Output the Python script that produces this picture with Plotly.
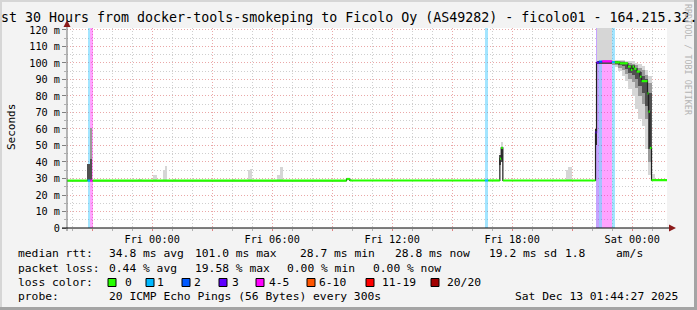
import plotly.graph_objects as go
import pandas as pd

# ---------------- data ----------------
title_text = "st 30 Hours from docker-tools-smokeping to Ficolo Oy (AS49282) - ficolo01 - 164.215.32."
x_start = "2025-12-11 19:44:27"
x_end = "2025-12-13 01:44:27"

tick_times = ["2025-12-11 21:00", "2025-12-12 00:00", "2025-12-12 03:00", "2025-12-12 06:00",
              "2025-12-12 09:00", "2025-12-12 12:00", "2025-12-12 15:00", "2025-12-12 18:00",
              "2025-12-12 21:00", "2025-12-13 00:00"]
tick_labels = ["", "Fri 00:00", "", "Fri 06:00", "", "Fri 12:00", "", "Fri 18:00", "", "Sat 00:00"]

y_ticks = [0, 10, 20, 30, 40, 50, 60, 70, 80, 90, 100, 110, 120]
y_tick_labels = ["0", "10 m", "20 m", "30 m", "40 m", "50 m", "60 m", "70 m", "80 m",
                 "90 m", "100 m", "110 m", "120 m"]

# median rtt (ms) step breakpoints and lost pings (of 20) for each step
med_time = ["2025-12-11 19:44:27", "2025-12-11 20:46", "2025-12-11 20:54", "2025-12-11 21:01",
            "2025-12-12 09:43", "2025-12-12 09:53", "2025-12-12 16:38", "2025-12-12 16:48",
            "2025-12-12 17:23", "2025-12-12 17:27", "2025-12-12 17:32", "2025-12-12 22:10",
            "2025-12-12 22:13", "2025-12-12 22:20", "2025-12-12 22:30", "2025-12-12 22:59",
            "2025-12-12 23:08", "2025-12-12 23:23", "2025-12-12 23:47", "2025-12-12 23:56",
            "2025-12-13 00:01", "2025-12-13 00:06", "2025-12-13 00:13", "2025-12-13 00:23",
            "2025-12-13 00:28", "2025-12-13 00:46", "2025-12-13 00:49", "2025-12-13 00:53",
            "2025-12-13 00:58"]
med_ms = [28.7, 28.7, 28.7, 28.7,
          29.7, 28.8, 28.8, 28.8,
          42.0, 48.5, 28.8, 58.0,
          100.2, 100.8, 101.0, 100.5,
          100.4, 99.8, 97.8, 95.8,
          97.8, 96.5, 94.8, 91.7,
          89.0, 81.6, 70.5, 48.5,
          29.0]
med_loss = [0, 1, 5, 0,
            0, 0, 1, 0,
            0, 0, 0, 3,
            3, 2, 5, 1,
            0, 0, 0, 0,
            0, 0, 0, 0,
            0, 0, 0, 0,
            0]

# smoke (ping spread) blocks: start, end, low ms, high ms, shade (0 light .. 3 darkest)
smoke_t0 = ["2025-12-11 23:17", "2025-12-12 00:01", "2025-12-12 00:31", "2025-12-12 00:37", "2025-12-12 01:01",
            "2025-12-12 03:58", "2025-12-12 04:46", "2025-12-12 04:52", "2025-12-12 06:13", "2025-12-12 06:23",
            "2025-12-12 09:53", "2025-12-12 20:41", "2025-12-12 20:47",
            "2025-12-11 20:47", "2025-12-11 20:52", "2025-12-11 20:52",
            "2025-12-12 17:23", "2025-12-12 17:27", "2025-12-12 17:27",
            "2025-12-12 22:10", "2025-12-12 22:13", "2025-12-12 22:13",
            "2025-12-12 22:59", "2025-12-12 22:59", "2025-12-12 22:59",
            "2025-12-12 23:08", "2025-12-12 23:08", "2025-12-12 23:08",
            "2025-12-12 23:18", "2025-12-12 23:18", "2025-12-12 23:18",
            "2025-12-12 23:28", "2025-12-12 23:28", "2025-12-12 23:28",
            "2025-12-12 23:38", "2025-12-12 23:38", "2025-12-12 23:38",
            "2025-12-12 23:48", "2025-12-12 23:48", "2025-12-12 23:48",
            "2025-12-12 23:58", "2025-12-12 23:58", "2025-12-12 23:58",
            "2025-12-13 00:08", "2025-12-13 00:08", "2025-12-13 00:08",
            "2025-12-13 00:18", "2025-12-13 00:18", "2025-12-13 00:18",
            "2025-12-13 00:28", "2025-12-13 00:28", "2025-12-13 00:28",
            "2025-12-13 00:38", "2025-12-13 00:38", "2025-12-13 00:38",
            "2025-12-13 00:48", "2025-12-13 00:48", "2025-12-13 00:48",
            "2025-12-13 00:58"]
smoke_t1 = ["2025-12-11 23:28", "2025-12-12 00:13", "2025-12-12 00:37", "2025-12-12 00:43", "2025-12-12 01:11",
            "2025-12-12 04:08", "2025-12-12 04:52", "2025-12-12 04:58", "2025-12-12 06:23", "2025-12-12 06:33",
            "2025-12-12 09:59", "2025-12-12 20:47", "2025-12-12 20:58",
            "2025-12-11 20:52", "2025-12-11 20:59", "2025-12-11 20:59",
            "2025-12-12 17:27", "2025-12-12 17:32", "2025-12-12 17:32",
            "2025-12-12 22:13", "2025-12-12 22:59", "2025-12-12 22:59",
            "2025-12-12 23:08", "2025-12-12 23:08", "2025-12-12 23:08",
            "2025-12-12 23:18", "2025-12-12 23:18", "2025-12-12 23:18",
            "2025-12-12 23:28", "2025-12-12 23:28", "2025-12-12 23:28",
            "2025-12-12 23:38", "2025-12-12 23:38", "2025-12-12 23:38",
            "2025-12-12 23:48", "2025-12-12 23:48", "2025-12-12 23:48",
            "2025-12-12 23:58", "2025-12-12 23:58", "2025-12-12 23:58",
            "2025-12-13 00:08", "2025-12-13 00:08", "2025-12-13 00:08",
            "2025-12-13 00:18", "2025-12-13 00:18", "2025-12-13 00:18",
            "2025-12-13 00:28", "2025-12-13 00:28", "2025-12-13 00:28",
            "2025-12-13 00:38", "2025-12-13 00:38", "2025-12-13 00:38",
            "2025-12-13 00:48", "2025-12-13 00:48", "2025-12-13 00:48",
            "2025-12-13 00:58", "2025-12-13 00:58", "2025-12-13 00:58",
            "2025-12-13 01:08"]
smoke_lo = [28.7, 28.7, 28.7, 28.7, 28.7,
            28.7, 28.7, 28.7, 28.7, 28.7,
            28.7, 28.8, 28.8,
            28.7, 42.0, 28.7,
            38.0, 48.5, 40.0,
            50.0, 101.0, 99.5,
            98.5, 99.0, 100.0,
            97.5, 98.5, 99.5,
            95.0, 97.0, 99.0,
            92.0, 95.5, 98.0,
            89.0, 93.5, 96.5,
            84.0, 90.5, 94.0,
            80.0, 88.5, 93.0,
            72.0, 85.0, 90.0,
            66.0, 80.0, 86.0,
            62.0, 75.0, 82.0,
            48.0, 66.0, 74.0,
            32.0, 40.0, 48.0,
            28.8]
smoke_hi = [30.0, 32.0, 35.0, 37.6, 30.0,
            30.0, 35.0, 36.0, 32.0, 37.0,
            30.0, 35.0, 37.0,
            39.0, 60.6, 42.0,
            44.0, 52.0, 48.5,
            60.0, 121.2, 101.5,
            102.0, 101.5, 101.0,
            102.0, 101.5, 101.0,
            102.0, 101.0, 100.5,
            102.0, 101.0, 100.5,
            101.5, 100.5, 99.5,
            101.0, 100.0, 98.5,
            101.0, 99.5, 98.5,
            100.0, 99.0, 97.0,
            99.5, 97.0, 94.5,
            98.0, 95.5, 92.0,
            96.0, 93.0, 90.0,
            92.0, 88.0, 82.0,
            33.0]
smoke_shade = [0, 0, 0, 0, 0,
               0, 0, 0, 0, 0,
               0, 0, 0,
               2, 1, 2,
               2, 0, 2,
               3, 0, 2,
               0, 1, 2,
               0, 1, 2,
               0, 1, 2,
               0, 1, 2,
               0, 1, 2,
               0, 1, 2,
               0, 1, 2,
               0, 1, 2,
               0, 1, 2,
               0, 1, 2,
               0, 1, 2,
               0, 1, 2,
               0]
shade_colors = ["#d6d6d6", "#9a9a9a", "#505050", "#2a2a2a"]

loss_labels = ["0", "1", "2", "3", "4-5", "6-10", "11-19", "20/20"]
loss_colors = ["#26ff00", "#00b8ff", "#0059ff", "#5e00ff", "#ff00ff", "#ff5500", "#ff0000", "#a10000"]
loss_limits = [0, 1, 2, 3, 5, 10, 19, 20]

stats_rows = [
    [(16, "median rtt:"), (107, "34.8 ms avg"), (193, "101.0 ms max"), (298, "28.7 ms min"),
     (393, "28.8 ms now"), (487, "19.2 ms sd"), (563, "1.8"), (614, "am/s")],
    [(16, "packet loss:"), (107, "0.44 % avg"), (193, "19.58 % max"), (285, "0.00 % min"),
     (371, "0.00 % now")],
]
probe_text = "20 ICMP Echo Pings (56 Bytes) every 300s"
stamp_text = "Sat Dec 13 01:44:27 2025"

# ---------------- layout geometry (pixels) ----------------
W, H = 697, 310
L, R, T, B = 67, 667, 28, 228
Y_TOP = 121.2
MONO = "DejaVu Sans Mono"


def px(x):
    return (x - L) / (R - L)


def py(y):
    return (B - y) / (B - T)


def loss_bin(n):
    for i, lim in enumerate(loss_limits):
        if n <= lim:
            return i
    return len(loss_limits) - 1


def rgba(hexc, a):
    h = hexc.lstrip("#")
    return "rgba(%d,%d,%d,%.2f)" % (int(h[0:2], 16), int(h[2:4], 16), int(h[4:6], 16), a)


def to_dt(lst):
    return pd.to_datetime(lst, format="mixed")


fig = go.Figure()

mt = to_dt(med_time + [x_end])

# loss background bars
for b in range(1, len(loss_colors)):
    xs, ws = [], []
    for i in range(len(med_time)):
        if med_loss[i] > 0 and loss_bin(med_loss[i]) == b:
            t0, t1 = mt[i], mt[i + 1]
            xs.append(t0 + (t1 - t0) / 2)
            ws.append((t1 - t0).total_seconds() * 1000)
    if xs:
        fig.add_trace(go.Bar(x=xs, y=[Y_TOP] * len(xs), base=[0] * len(xs), width=ws,
                             marker=dict(color=rgba(loss_colors[b], 0.36), line=dict(width=0)),
                             hoverinfo="skip", showlegend=False))

# smoke
s0 = to_dt(smoke_t0)
s1 = to_dt(smoke_t1)
for sh in range(len(shade_colors)):
    xs, ys, bs, ws = [], [], [], []
    for i in range(len(smoke_t0)):
        if smoke_shade[i] == sh:
            xs.append(s0[i] + (s1[i] - s0[i]) / 2)
            ws.append((s1[i] - s0[i]).total_seconds() * 1000)
            bs.append(smoke_lo[i])
            ys.append(smoke_hi[i] - smoke_lo[i])
    if xs:
        fig.add_trace(go.Bar(x=xs, y=ys, base=bs, width=ws,
                             marker=dict(color=shade_colors[sh], line=dict(width=0)),
                             hoverinfo="skip", showlegend=False))

# thin dark median line (steps)
fig.add_trace(go.Scatter(x=list(mt), y=med_ms + [med_ms[-1]], mode="lines",
                         line=dict(color="#202020", width=1.2, shape="hv"),
                         hoverinfo="skip", showlegend=False))

# coloured median segments by loss
for b in range(len(loss_colors)):
    xs, ys = [], []
    for i in range(len(med_time)):
        if loss_bin(med_loss[i]) == b:
            xs += [mt[i], mt[i + 1], None]
            ys += [med_ms[i], med_ms[i], None]
    if xs:
        fig.add_trace(go.Scatter(x=xs, y=ys, mode="lines",
                                 line=dict(color=loss_colors[b], width=2.2),
                                 hoverinfo="skip", showlegend=False))

shapes = []
# outer frame
shapes.append(dict(type="line", xref="paper", yref="paper", x0=px(0), x1=px(W), y0=py(1), y1=py(1),
                   line=dict(color="#d6d6d6", width=2)))
shapes.append(dict(type="line", xref="paper", yref="paper", x0=px(1), x1=px(1), y0=py(0), y1=py(H),
                   line=dict(color="#d6d6d6", width=2)))
shapes.append(dict(type="line", xref="paper", yref="paper", x0=px(0), x1=px(W), y0=py(308.5), y1=py(308.5),
                   line=dict(color="#a4a4a4", width=3)))
shapes.append(dict(type="line", xref="paper", yref="paper", x0=px(695.5), x1=px(695.5), y0=py(0), y1=py(H),
                   line=dict(color="#a4a4a4", width=3)))
# axes with arrows
shapes.append(dict(type="line", xref="paper", yref="paper", x0=px(67), x1=px(67), y0=py(231), y1=py(25),
                   line=dict(color="#707070", width=1)))
shapes.append(dict(type="line", xref="paper", yref="paper", x0=px(62), x1=px(670), y0=py(228), y1=py(228),
                   line=dict(color="#000000", width=1)))
shapes.append(dict(type="path", xref="paper", yref="paper",
                   path="M %f %f L %f %f L %f %f Z" % (px(63.5), py(27), px(70.5), py(27), px(67), py(20)),
                   fillcolor="#8b1a1a", line=dict(width=0)))
shapes.append(dict(type="path", xref="paper", yref="paper",
                   path="M %f %f L %f %f L %f %f Z" % (px(669), py(224.5), px(669), py(231.5), px(676), py(228)),
                   fillcolor="#8b1a1a", line=dict(width=0)))

annotations = []
annotations.append(dict(x=px(348.5), y=py(17), xref="paper", yref="paper", text=title_text,
                        showarrow=False, xanchor="center", yanchor="middle",
                        font=dict(family=MONO, size=13.3, color="#000000")))
annotations.append(dict(x=px(11), y=py(127), xref="paper", yref="paper", text="Seconds",
                        showarrow=False, textangle=-90, xanchor="center", yanchor="middle",
                        font=dict(family=MONO, size=11, color="#000000")))
annotations.append(dict(x=px(688), y=py(60), xref="paper", yref="paper", text="RRDTOOL / TOBI OETIKER",
                        showarrow=False, textangle=90, xanchor="center", yanchor="middle",
                        font=dict(family=MONO, size=8.4, color="#b4b4b4")))

row_y = [254, 268, 282, 296]
LEG = 11.3
for r, row in enumerate(stats_rows):
    for xx, txt in row:
        annotations.append(dict(x=px(xx), y=py(row_y[r]), xref="paper", yref="paper", text=txt,
                                showarrow=False, xanchor="left", yanchor="middle",
                                font=dict(family=MONO, size=LEG, color="#000000")))
annotations.append(dict(x=px(16), y=py(row_y[2]), xref="paper", yref="paper", text="loss color:",
                        showarrow=False, xanchor="left", yanchor="middle",
                        font=dict(family=MONO, size=LEG, color="#000000")))
box_x = [108, 146, 182, 219, 256, 307, 366, 431]
lab_x = [123, 155, 192, 230, 267, 317, 380, 445]
for k in range(len(loss_labels)):
    shapes.append(dict(type="rect", xref="paper", yref="paper",
                       x0=px(box_x[k]), x1=px(box_x[k] + 8), y0=py(286.5), y1=py(278.5),
                       fillcolor=loss_colors[k], line=dict(color="#000000", width=1)))
    annotations.append(dict(x=px(lab_x[k]), y=py(row_y[2]), xref="paper", yref="paper", text=loss_labels[k],
                            showarrow=False, xanchor="left", yanchor="middle",
                            font=dict(family=MONO, size=LEG, color="#000000")))
annotations.append(dict(x=px(16), y=py(row_y[3]), xref="paper", yref="paper", text="probe:",
                        showarrow=False, xanchor="left", yanchor="middle",
                        font=dict(family=MONO, size=LEG, color="#000000")))
annotations.append(dict(x=px(107), y=py(row_y[3]), xref="paper", yref="paper", text=probe_text,
                        showarrow=False, xanchor="left", yanchor="middle",
                        font=dict(family=MONO, size=LEG, color="#000000")))
annotations.append(dict(x=px(513), y=py(row_y[3]), xref="paper", yref="paper", text=stamp_text,
                        showarrow=False, xanchor="left", yanchor="middle",
                        font=dict(family=MONO, size=LEG, color="#000000")))

fig.update_layout(
    width=W, height=H,
    margin=dict(l=L, r=W - R, t=T, b=H - B, pad=0),
    paper_bgcolor="#f3f3f3", plot_bgcolor="#ffffff",
    barmode="overlay", bargap=0, showlegend=False,
    shapes=shapes, annotations=annotations,
    xaxis=dict(type="date", range=[x_start, x_end], tickmode="array",
               tickvals=tick_times, ticktext=tick_labels,
               showgrid=True, gridcolor="#eaa8a8", griddash="1px,2px", gridwidth=1,
               ticks="outside", ticklen=2, tickcolor="#e08080",
               minor=dict(dtick=3600000, tick0="2025-12-11 00:00", showgrid=True,
                          gridcolor="#cfcfcf", griddash="1px,2px", ticks="outside", ticklen=2,
                          tickcolor="#b0b0b0"),
               tickfont=dict(family=MONO, size=10.2, color="#000000"),
               showline=False, zeroline=False, fixedrange=True),
    yaxis=dict(range=[0, Y_TOP], tickmode="array", tickvals=y_ticks, ticktext=y_tick_labels,
               showgrid=True, gridcolor="#eaa8a8", griddash="1px,2px", gridwidth=1,
               ticks="outside", ticklen=4, tickcolor="#808080",
               minor=dict(dtick=5, showgrid=True, gridcolor="#cfcfcf", griddash="1px,2px",
                          ticks="outside", ticklen=2, tickcolor="#b0b0b0"),
               tickfont=dict(family=MONO, size=10.2, color="#000000"),
               showline=False, zeroline=False, fixedrange=True),
)

fig.write_html("out.html")
